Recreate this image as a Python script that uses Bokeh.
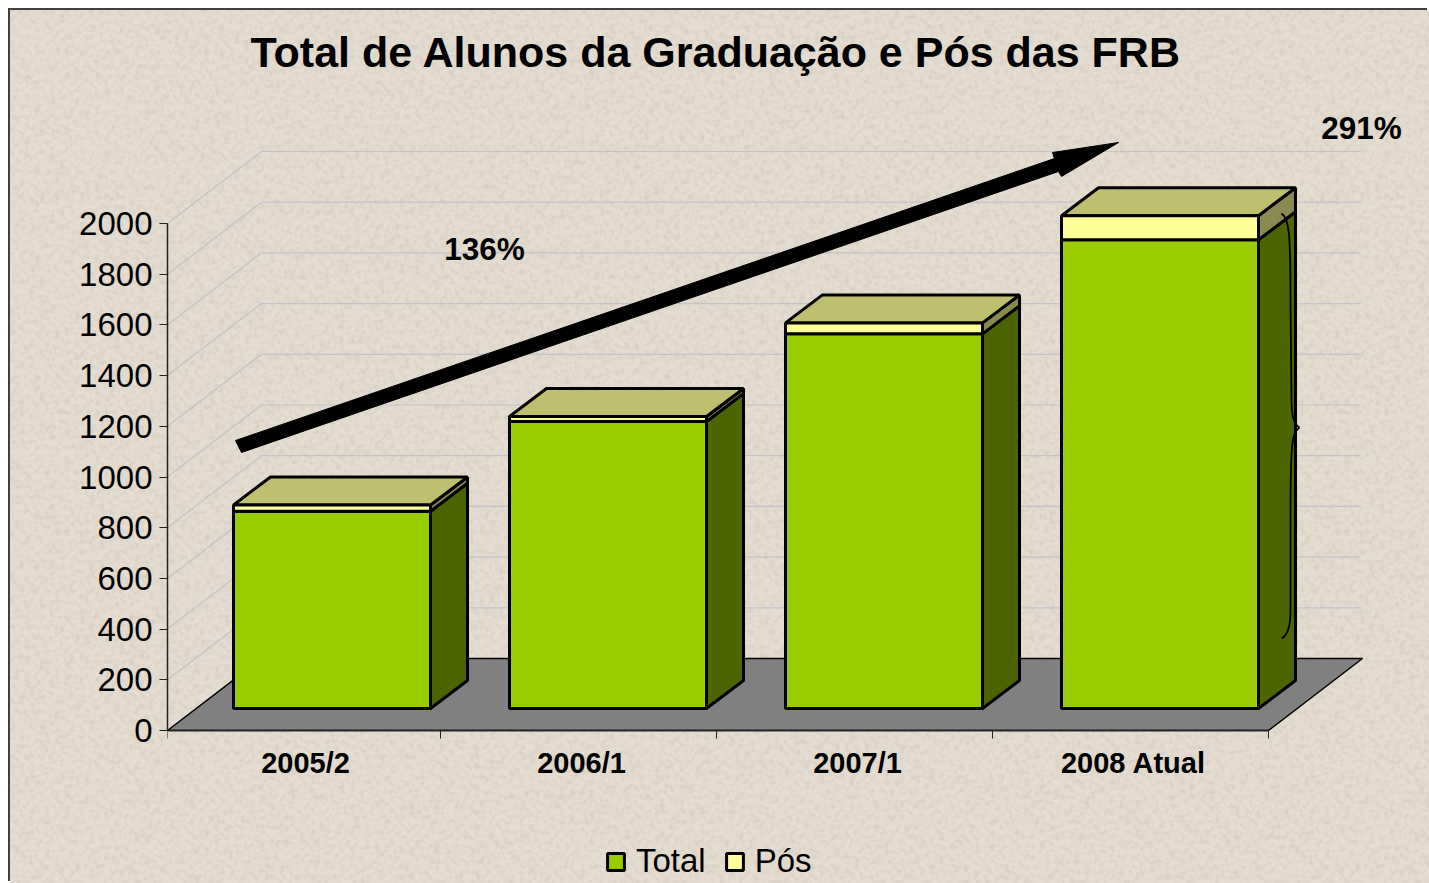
from urllib.parse import quote
from bokeh.plotting import figure
from bokeh.models import Legend, LegendItem, FixedTicker, Title
from bokeh.core.properties import value
from bokeh.embed import file_html
from bokeh.resources import INLINE

# ---- data ----
categories = ["2005/2", "2006/1", "2007/1", "2008 Atual"]
total = [778, 1132, 1478, 1849]
pos = [25, 20, 43, 95]
y_ticks = [0, 200, 400, 600, 800, 1000, 1200, 1400, 1600, 1800, 2000]
chart_title = "Total de Alunos da Graduação e Pós das FRB"

# ---- layout (page pixels) ----
FONT = "Liberation Sans"
BG = "#e4dcd0"
ORIGIN = 10                  # page position of the figure's corner
LEFT = 167                   # page position of the vertical axis
X0, Y0 = 164, 730            # page position of x=0 and of value 0
PX_CAT, PX_VAL = 276, 0.2535
PAGE_W, PAGE_H = 1429, 883
FIG_W, FIG_H = PAGE_W - ORIGIN, PAGE_H - ORIGIN
FRAME_TOP = 80

# paper-like mottling of the slide background (a CSS background, not chart data)
TEXTURE = ("<svg xmlns='http://www.w3.org/2000/svg' width='1429' height='883'>"
           "<filter id='n'><feTurbulence type='fractalNoise' baseFrequency='0.2' numOctaves='2' seed='7'/>"
           "<feColorMatrix values='0 0 0 0 0.5  0 0 0 0 0.45  0 0 0 0 0.36  0.7 0 0 0 -0.29'/></filter>"
           "<rect width='100%' height='100%' filter='url(#n)'/></svg>")

def ux(dpx):
    return dpx / PX_CAT
def uy(dpx):
    return dpx / PX_VAL
def dx(px):
    return (px - X0) / PX_CAT
def dy(px):
    return (Y0 - px) / PX_VAL

X_START = dx(LEFT)
FLOOR_X, FLOOR_Y = ux(94), uy(72)
BAR_SHIFT_X, BAR_SHIFT_Y = ux(29.5), uy(22)
BAR_W = ux(197)
DEPTH_X, DEPTH_Y = ux(37), uy(28)
n = len(categories)

p = figure(width=FIG_W, height=FIG_H, output_backend="svg", toolbar_location=None,
           x_range=(X_START, dx(PAGE_W)), y_range=(dy(PAGE_H), dy(FRAME_TOP)),
           min_border_left=LEFT - ORIGIN, min_border_right=0, min_border_top=FRAME_TOP - ORIGIN,
           min_border_bottom=0,
           background_fill_alpha=0, border_fill_alpha=0, outline_line_color=None)
p.grid.visible = False

p.title = Title(text=chart_title, text_font=FONT, text_font_size="43px", text_font_style="bold",
                text_color="black", align="left", offset=83)

# axes
ya = p.yaxis[0]
ya.ticker = FixedTicker(ticks=y_ticks)
ya.bounds = (0, 2000)
ya.major_label_text_font = FONT
ya.major_label_text_font_size = "33px"
ya.major_label_text_color = "black"
ya.major_label_standoff = 7
ya.major_tick_in = 0
ya.major_tick_out = 8
ya.minor_tick_line_color = None
ya.axis_line_color = "#222222"
ya.major_tick_line_color = "#222222"
ya.axis_line_width = 1.5

xa = p.xaxis[0]
centers = [i + 0.5 + ux(3) for i in range(n)]
xa.fixed_location = 0
xa.ticker = FixedTicker(ticks=centers, minor_ticks=[X_START] + list(range(1, n + 1)))
xa.major_label_overrides = {c: l for c, l in zip(centers, categories)}
xa.bounds = (X_START, n)
xa.major_label_text_font = FONT
xa.major_label_text_font_size = "29px"
xa.major_label_text_font_style = "bold"
xa.major_label_text_color = "black"
xa.major_label_standoff = 8
xa.major_tick_in = 0
xa.major_tick_out = 0
xa.minor_tick_in = 0
xa.minor_tick_out = 8
xa.axis_line_color = "#222222"
xa.minor_tick_line_color = "#222222"
xa.axis_line_width = 1.5

# walls: grid lines
grid_xs, grid_ys = [], []
for t in y_ticks[1:]:
    grid_xs.append([X_START, X_START + FLOOR_X, n + FLOOR_X - ux(2)])
    grid_ys.append([t, t + FLOOR_Y, t + FLOOR_Y])
p.multi_line(grid_xs, grid_ys, line_color="#c3c3c9", line_width=1.2)

# floor
p.patch([X_START, n, n + FLOOR_X, X_START + FLOOR_X], [0, 0, FLOOR_Y, FLOOR_Y],
        fill_color="#808080", line_color="black", line_width=1.5)

# bars
mids = [i + 0.5 + BAR_SHIFT_X for i in range(n)]
lefts = [m - BAR_W / 2 for m in mids]
rights = [m + BAR_W / 2 for m in mids]
base = BAR_SHIFT_Y
tops_t = [base + t for t in total]
tops_p = [base + t + q for t, q in zip(total, pos)]

def side(r, lo, hi):
    return ([r, r + DEPTH_X, r + DEPTH_X, r], [lo, lo + DEPTH_Y, hi + DEPTH_Y, hi])

LW = 3
for i in range(n):
    sx, sy = side(rights[i], base, tops_t[i])
    p.patch(sx, sy, fill_color="#4d6500", line_color="black", line_width=LW, line_join="bevel")
    sx, sy = side(rights[i], tops_t[i], tops_p[i])
    p.patch(sx, sy, fill_color="#8a8a50", line_color="black", line_width=LW, line_join="bevel")
    p.patch([lefts[i], rights[i], rights[i] + DEPTH_X, lefts[i] + DEPTH_X],
            [tops_p[i], tops_p[i], tops_p[i] + DEPTH_Y, tops_p[i] + DEPTH_Y],
            fill_color="#bfbf70", line_color="black", line_width=LW, line_join="bevel")

r_total = p.vbar(x=mids, width=BAR_W, bottom=base, top=tops_t,
                 fill_color="#99cc00", line_color="black", line_width=LW)
r_pos = p.vbar(x=mids, width=BAR_W, bottom=tops_t, top=tops_p,
               fill_color="#ffff99", line_color="black", line_width=LW)

# arrow
arrow_px = [(235, 440), (241, 452), (1058, 171), (1061, 176), (1118, 142), (1052, 152), (1054, 158)]
p.patch([dx(a) for a, _ in arrow_px], [dy(b) for _, b in arrow_px],
        fill_color="black", line_color="black", line_width=1)

# brace on the last bar
p.bezier(x0=[dx(1281), dx(1290), dx(1291), dx(1299), dx(1290), dx(1290)],
         y0=[dy(213), dy(300), dy(400), dy(427), dy(520), dy(610)],
         x1=[dx(1290), dx(1291), dx(1299), dx(1290), dx(1290), dx(1281)],
         y1=[dy(300), dy(400), dy(427), dy(520), dy(610), dy(638)],
         cx0=[dx(1289), dx(1290), dx(1291), dx(1291), dx(1290), dx(1290)],
         cy0=[dy(218), dy(330), dy(418), dy(432), dy(550), dy(630)],
         cx1=[dx(1290), dx(1291), dx(1295), dx(1290), dx(1290), dx(1285)],
         cy1=[dy(235), dy(370), dy(425), dy(445), dy(580), dy(636)],
         line_color="black", line_width=1.8)

# notes
p.text(x=[dx(484), dx(1361)], y=[dy(248), dy(127)], text=["136%", "291%"],
       text_font=value(FONT), text_font_size="31.5px", text_font_style="bold",
       text_align="center", text_baseline="middle", text_color="black")

# legend
legend = Legend(items=[LegendItem(label="Total", renderers=[r_total]),
                       LegendItem(label="Pós", renderers=[r_pos])],
                orientation="horizontal", location=(438, 3),
                background_fill_alpha=0, border_line_color=None,
                glyph_width=21, glyph_height=21, label_standoff=10, spacing=18,
                margin=0, padding=0,
                label_text_font=FONT, label_text_font_size="33px", label_text_color="black")
p.add_layout(legend, "center")

p.styles = {"margin-left": f"{ORIGIN}px", "margin-top": f"{ORIGIN}px",
            "background-color": BG,
            "background-image": "url(\"data:image/svg+xml," + quote(TEXTURE) + "\")",
            "box-shadow": "-2px -2px 0 #404040"}

open("out.html", "w").write(file_html(p, INLINE))
